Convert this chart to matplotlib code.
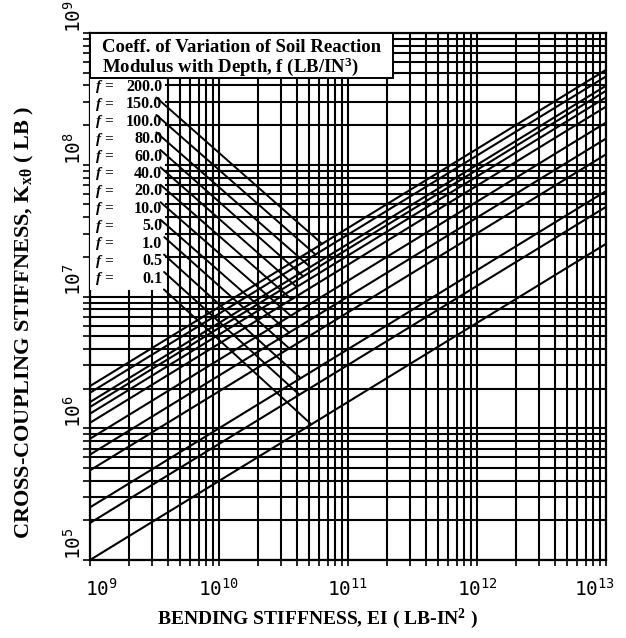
import matplotlib
matplotlib.use("Agg")
import matplotlib.pyplot as plt
import matplotlib.transforms as mtransforms
import numpy as np
from matplotlib.patches import Rectangle
from matplotlib.ticker import LogLocator, NullFormatter, FixedLocator

# values: each f curve is a straight line on log-log axes
f_labels = ["200.0", "150.0", "100.0", "80.0", "60.0", "40.0",
            "20.0", "10.0", "5.0", "1.0", "0.5", "0.1"]
ei_ends = [1e9, 1e13]
k_left = [2.09e6, 1.86e6, 1.58e6, 1.45e6, 1.29e6, 1.10e6,
          8.32e5, 6.31e5, 4.79e5, 2.51e5, 1.91e5, 1.0e5]
k_right = [5.25e8, 4.68e8, 3.98e8, 3.64e8, 3.25e8, 2.76e8,
           2.09e8, 1.58e8, 1.20e8, 6.31e7, 4.79e7, 2.51e7]
# EI where each label's leader line meets its curve
leader_ei = [6.3e10, 5.6e10, 5.1e10, 4.5e10, 4.0e10, 3.65e10,
             3.6e10, 3.5e10, 3.5e10, 4.3e10, 4.2e10, 5.2e10]

x_major = [1e9, 1e10, 1e11, 1e12, 1e13]
x_ticklabels = [r"$\mathregular{10^{9}}$", r"$\mathregular{10^{10}}$",
                r"$\mathregular{10^{11}}$", r"$\mathregular{10^{12}}$",
                r"$\mathregular{10^{13}}$"]
y_major = [1e5, 1e6, 1e7, 1e8, 1e9]
y_ticklabels = [r"$\mathregular{10^{5}}$", r"$\mathregular{10^{6}}$",
                r"$\mathregular{10^{7}}$", r"$\mathregular{10^{8}}$",
                r"$\mathregular{10^{9}}$"]

plt.rcParams.update({
    "font.family": ["Liberation Serif", "DejaVu Serif"],
    "mathtext.fontset": "custom",
    "mathtext.rm": "Liberation Serif",
    "mathtext.it": "Liberation Serif:italic",
    "mathtext.bf": "Liberation Serif:bold",
})

fig = plt.figure(figsize=(6.26, 6.38), dpi=100)
# axes box in figure pixels: left 90, right 606, top 33, bottom 560
ax = fig.add_axes([90 / 626, 1 - 560 / 638, 516 / 626, 527 / 638])
ax.set_xscale("log")
ax.set_yscale("log")
ax.set_xlim(1e9, 1e13)
ax.set_ylim(1e5, 1e9)

# full log grid, all black
ax.xaxis.set_major_locator(FixedLocator(x_major))
ax.yaxis.set_major_locator(FixedLocator(y_major))
ax.xaxis.set_minor_locator(LogLocator(base=10, subs=np.arange(2, 10)))
ax.yaxis.set_minor_locator(LogLocator(base=10, subs=np.arange(2, 10)))
ax.xaxis.set_minor_formatter(NullFormatter())
ax.yaxis.set_minor_formatter(NullFormatter())
ax.grid(True, which="both", color="black", linewidth=1.5)
ax.set_axisbelow(True)

ax.set_xticklabels(x_ticklabels, fontsize=14, fontfamily="DejaVu Sans Mono")
ax.set_yticklabels(y_ticklabels, fontsize=14, rotation=90, va="bottom",
                   fontfamily="DejaVu Sans Mono")
ax.tick_params(which="both", direction="out", color="black", width=1.2)
ax.tick_params(axis="y", which="both", length=5, pad=-1)
ax.tick_params(axis="x", which="both", length=4, pad=9)
for spine in ax.spines.values():
    spine.set_linewidth(1.6)
    spine.set_color("black")

# the outer decade labels sit a little inside their ticks in the original
shifts = {0: 8, 4: -8}
for idx, lab in enumerate(ax.get_xticklabels()):
    if idx in shifts:
        lab.set_transform(lab.get_transform() +
                          mtransforms.ScaledTranslation(shifts[idx] / 72, 0,
                                                        fig.dpi_scale_trans))

for kl, kr in zip(k_left, k_right):
    ax.plot(ei_ends, [kl, kr], color="black", linewidth=1.5, zorder=3)

# legend box and white label area
ax.add_patch(Rectangle((0, 0.915), 0.587, 0.085, transform=ax.transAxes,
                       facecolor="white", edgecolor="black", linewidth=1.4,
                       zorder=5))
ax.add_patch(Rectangle((0, 0.512), 0.145, 0.403, transform=ax.transAxes,
                       facecolor="white", edgecolor="none", zorder=4))
ax.text(0.024, 0.972, "Coeff. of Variation of Soil Reaction",
        transform=ax.transAxes, fontsize=13.5, fontweight="bold",
        va="center", ha="left", zorder=6)
ax.text(0.024, 0.936, r"Modulus with Depth, f (LB/IN$^{\mathbf{3}}$)",
        transform=ax.transAxes, fontsize=13.5, fontweight="bold",
        va="center", ha="left", zorder=6)

for i, label in enumerate(f_labels):
    y_ax = 0.898 - i * 0.0331
    ax.text(0.012, y_ax, "f =", transform=ax.transAxes, fontsize=11,
            fontweight="bold", fontstyle="italic", va="center", ha="left",
            zorder=6)
    ei_end = leader_ei[i]
    t = (np.log10(ei_end) - 9) / 4
    k_end = 10 ** (np.log10(k_left[i]) + t * (np.log10(k_right[i]) - np.log10(k_left[i])))
    ax.annotate(label, xy=(ei_end, k_end), xycoords="data",
                xytext=(0.14, y_ax), textcoords="axes fraction",
                fontsize=11.5, fontweight="bold", va="center", ha="right",
                zorder=6,
                arrowprops=dict(arrowstyle="-", color="black", linewidth=1.4,
                                shrinkA=0, shrinkB=0))

ax.set_xlabel(r"BENDING STIFFNESS, EI ( LB-IN$^{\mathbf{2}}$ )",
              fontsize=14, fontweight="bold")
ax.xaxis.set_label_coords(0.44, -0.088)
ax.set_ylabel(r"CROSS-COUPLING STIFFNESS, K$_{\mathbf{x\theta}}$ ( LB )",
              fontsize=16, fontweight="bold")
ax.yaxis.set_label_coords(-0.105, 0.45)

fig.savefig("out.png", dpi=100, facecolor="white")
